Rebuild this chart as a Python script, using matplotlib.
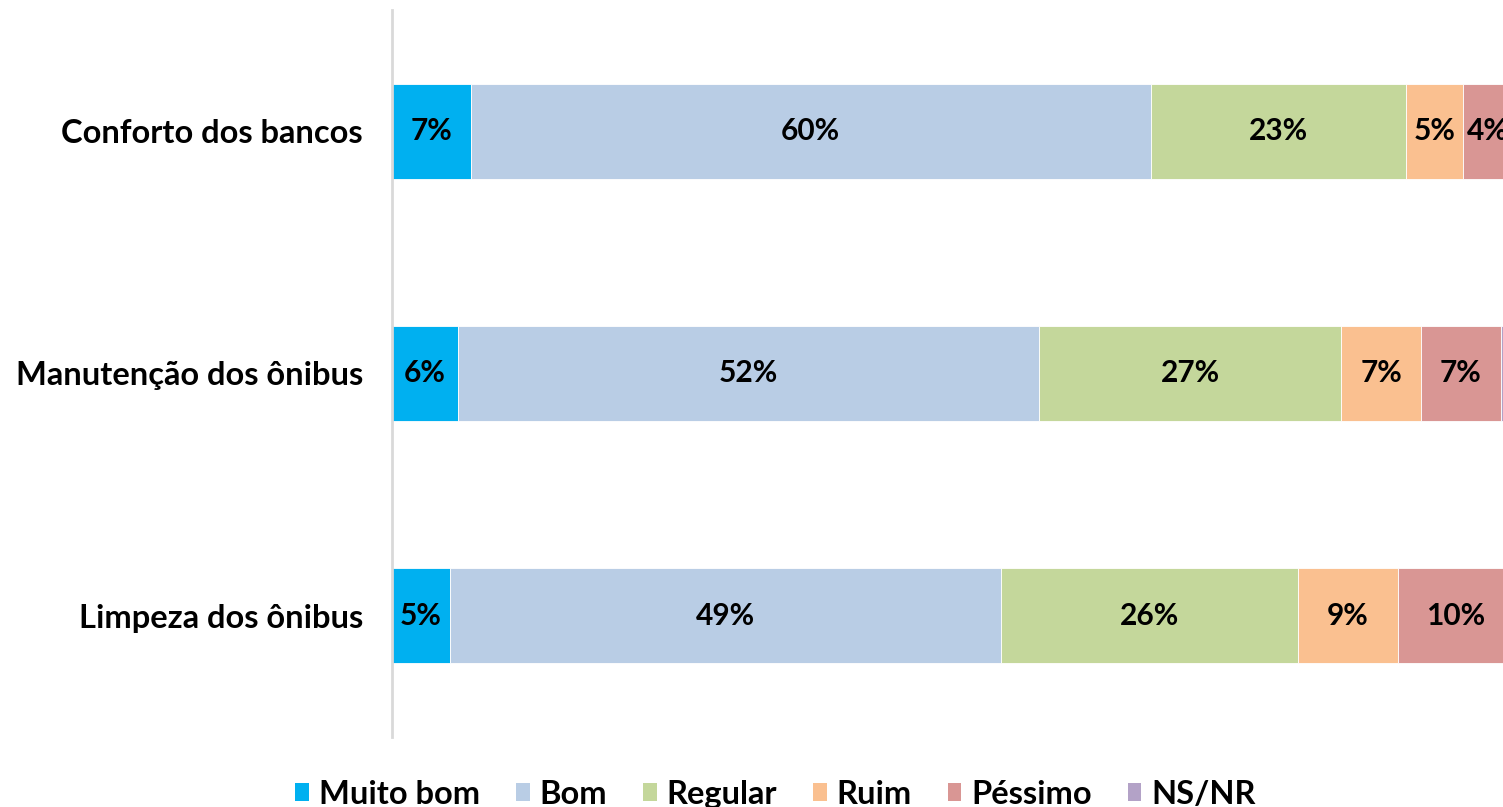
import matplotlib
matplotlib.use("Agg")
import matplotlib.pyplot as plt
from matplotlib.patches import Patch
import numpy as np

plt.rcParams['font.family'] = ['Lato', 'DejaVu Sans']

# rows from bottom to top
items = ["Limpeza dos ônibus", "Manutenção dos ônibus", "Conforto dos bancos"]
ratings = ["Muito bom", "Bom", "Regular", "Ruim", "Péssimo", "NS/NR"]
colors = ["#00B0F0", "#B9CDE5", "#C4D79B", "#FAC090", "#D99694", "#B3A2C7"]

muito_bom = [5.1, 5.8, 6.96]
bom = [48.8, 51.5, 60.2]
regular = [26.3, 26.7, 22.6]
ruim = [8.8, 7.1, 5.0]
pessimo = [10.3, 7.0, 4.4]
ns_nr = [0.7, 1.9, 0.84]

series = [muito_bom, bom, regular, ruim, pessimo, ns_nr]

fig = plt.figure(figsize=(15.03, 8.07), dpi=100)
# axes reaches past the right edge, like the cropped original
ax = fig.add_axes([392 / 1503, 70 / 807, 1130 / 1503, 727 / 807])

y = np.arange(len(items))
left = np.zeros(len(items))
for name, vals, col in zip(ratings, series, colors):
    vals = np.array(vals)
    bars = ax.barh(y, vals, left=left, height=0.393, color=col,
                   edgecolor="white", linewidth=0.6, label=name)
    if name != "NS/NR":
        for b, v in zip(bars, vals):
            ax.text(b.get_x() + b.get_width() / 2, b.get_y() + b.get_height() / 2,
                    f"{v:.0f}%", ha="center", va="center",
                    fontsize=21.5, fontweight="bold", color="black")
    left += vals

ax.set_xlim(0, 100)
ax.set_ylim(-0.5, 2.5)
ax.set_yticks(y)
ax.set_yticklabels(items, fontsize=23.5, fontweight="bold")
ax.tick_params(axis="y", length=0, pad=21)
ax.tick_params(axis="x", bottom=False, labelbottom=False)
for s in ["top", "right", "bottom"]:
    ax.spines[s].set_visible(False)
ax.spines["left"].set_color("#D9D9D9")
ax.spines["left"].set_linewidth(2)

handles = [Patch(facecolor=c, label=r) for r, c in zip(ratings, colors)]
fig.legend(handles=handles, loc="center", bbox_to_anchor=(0.516, 0.016),
           ncol=6, frameon=False,
           prop={"weight": "bold", "size": 23.5},
           handlelength=0.42, handleheight=0.5, handletextpad=0.3,
           columnspacing=1.1)

fig.savefig("out.png", dpi=100)
